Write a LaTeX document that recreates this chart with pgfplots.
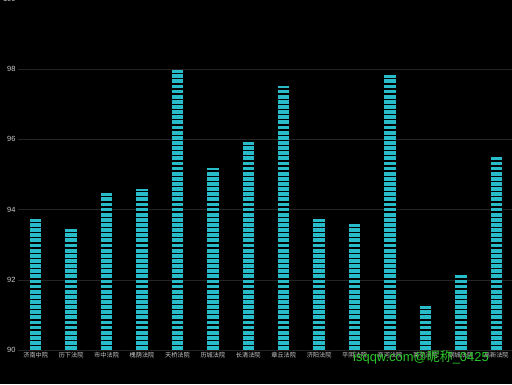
\documentclass[border=0pt]{standalone}
\usepackage{pgfplots}
\pgfplotsset{compat=1.18}
\usepackage{fontspec}
\setmainfont{Liberation Sans}
\newfontfamily\cjk{Noto Sans CJK SC}
\definecolor{barc}{RGB}{40,188,202}
\definecolor{wm}{RGB}{40,200,40}
\begin{document}
\begin{tikzpicture}[x=1bp,y=1bp]
\fill[black] (0,0) rectangle (512,384);
\useasboundingbox (0,0) rectangle (512,384);
\begin{axis}[
  at={(18bp,34bp)}, anchor=south west,
  scale only axis, width=496bp, height=351bp,
  xmin=-0.5, xmax=13.5, ymin=90, ymax=100,
  axis line style={draw=none}, tick style={draw=none},
  ytick={90,92,94,96,98,100},
  xtick={0,...,13},
  xticklabels={济南中院,历下法院,市中法院,槐荫法院,天桥法院,历城法院,长清法院,章丘法院,济阳法院,平阴法院,商河法院,莱芜法院,钢城法院,高新法院},
  xticklabel style={font=\cjk\fontsize{6.2}{7}\selectfont, text=white!80!black, yshift=1bp},
  yticklabel style={font=\fontsize{7.5}{8}\selectfont, text=white!80!black, xshift=1bp},
  /pgf/number format/assume math mode=true,
  ymajorgrids, grid style={white!14!black, line width=0.6bp},
]
\addplot[barc, line width=11.5bp, dash pattern=on 3.8bp off 1.33bp, line cap=butt,
  quiver={u=0, v=\thisrow{val}-90}] table[x=x, y=base] {
x base val
0 90 93.73
1 90 93.45
2 90 94.47
3 90 94.60
4 90 97.98
5 90 95.19
6 90 95.93
7 90 97.52
8 90 93.73
9 90 93.59
10 90 97.83
11 90 91.25
12 90 92.14
13 90 95.50
};
\end{axis}
\node[text=wm, font=\fontsize{13}{13}\selectfont] at (421,27) {isqqw.com@{\cjk 昵称}\_0425};
\end{tikzpicture}
\end{document}
